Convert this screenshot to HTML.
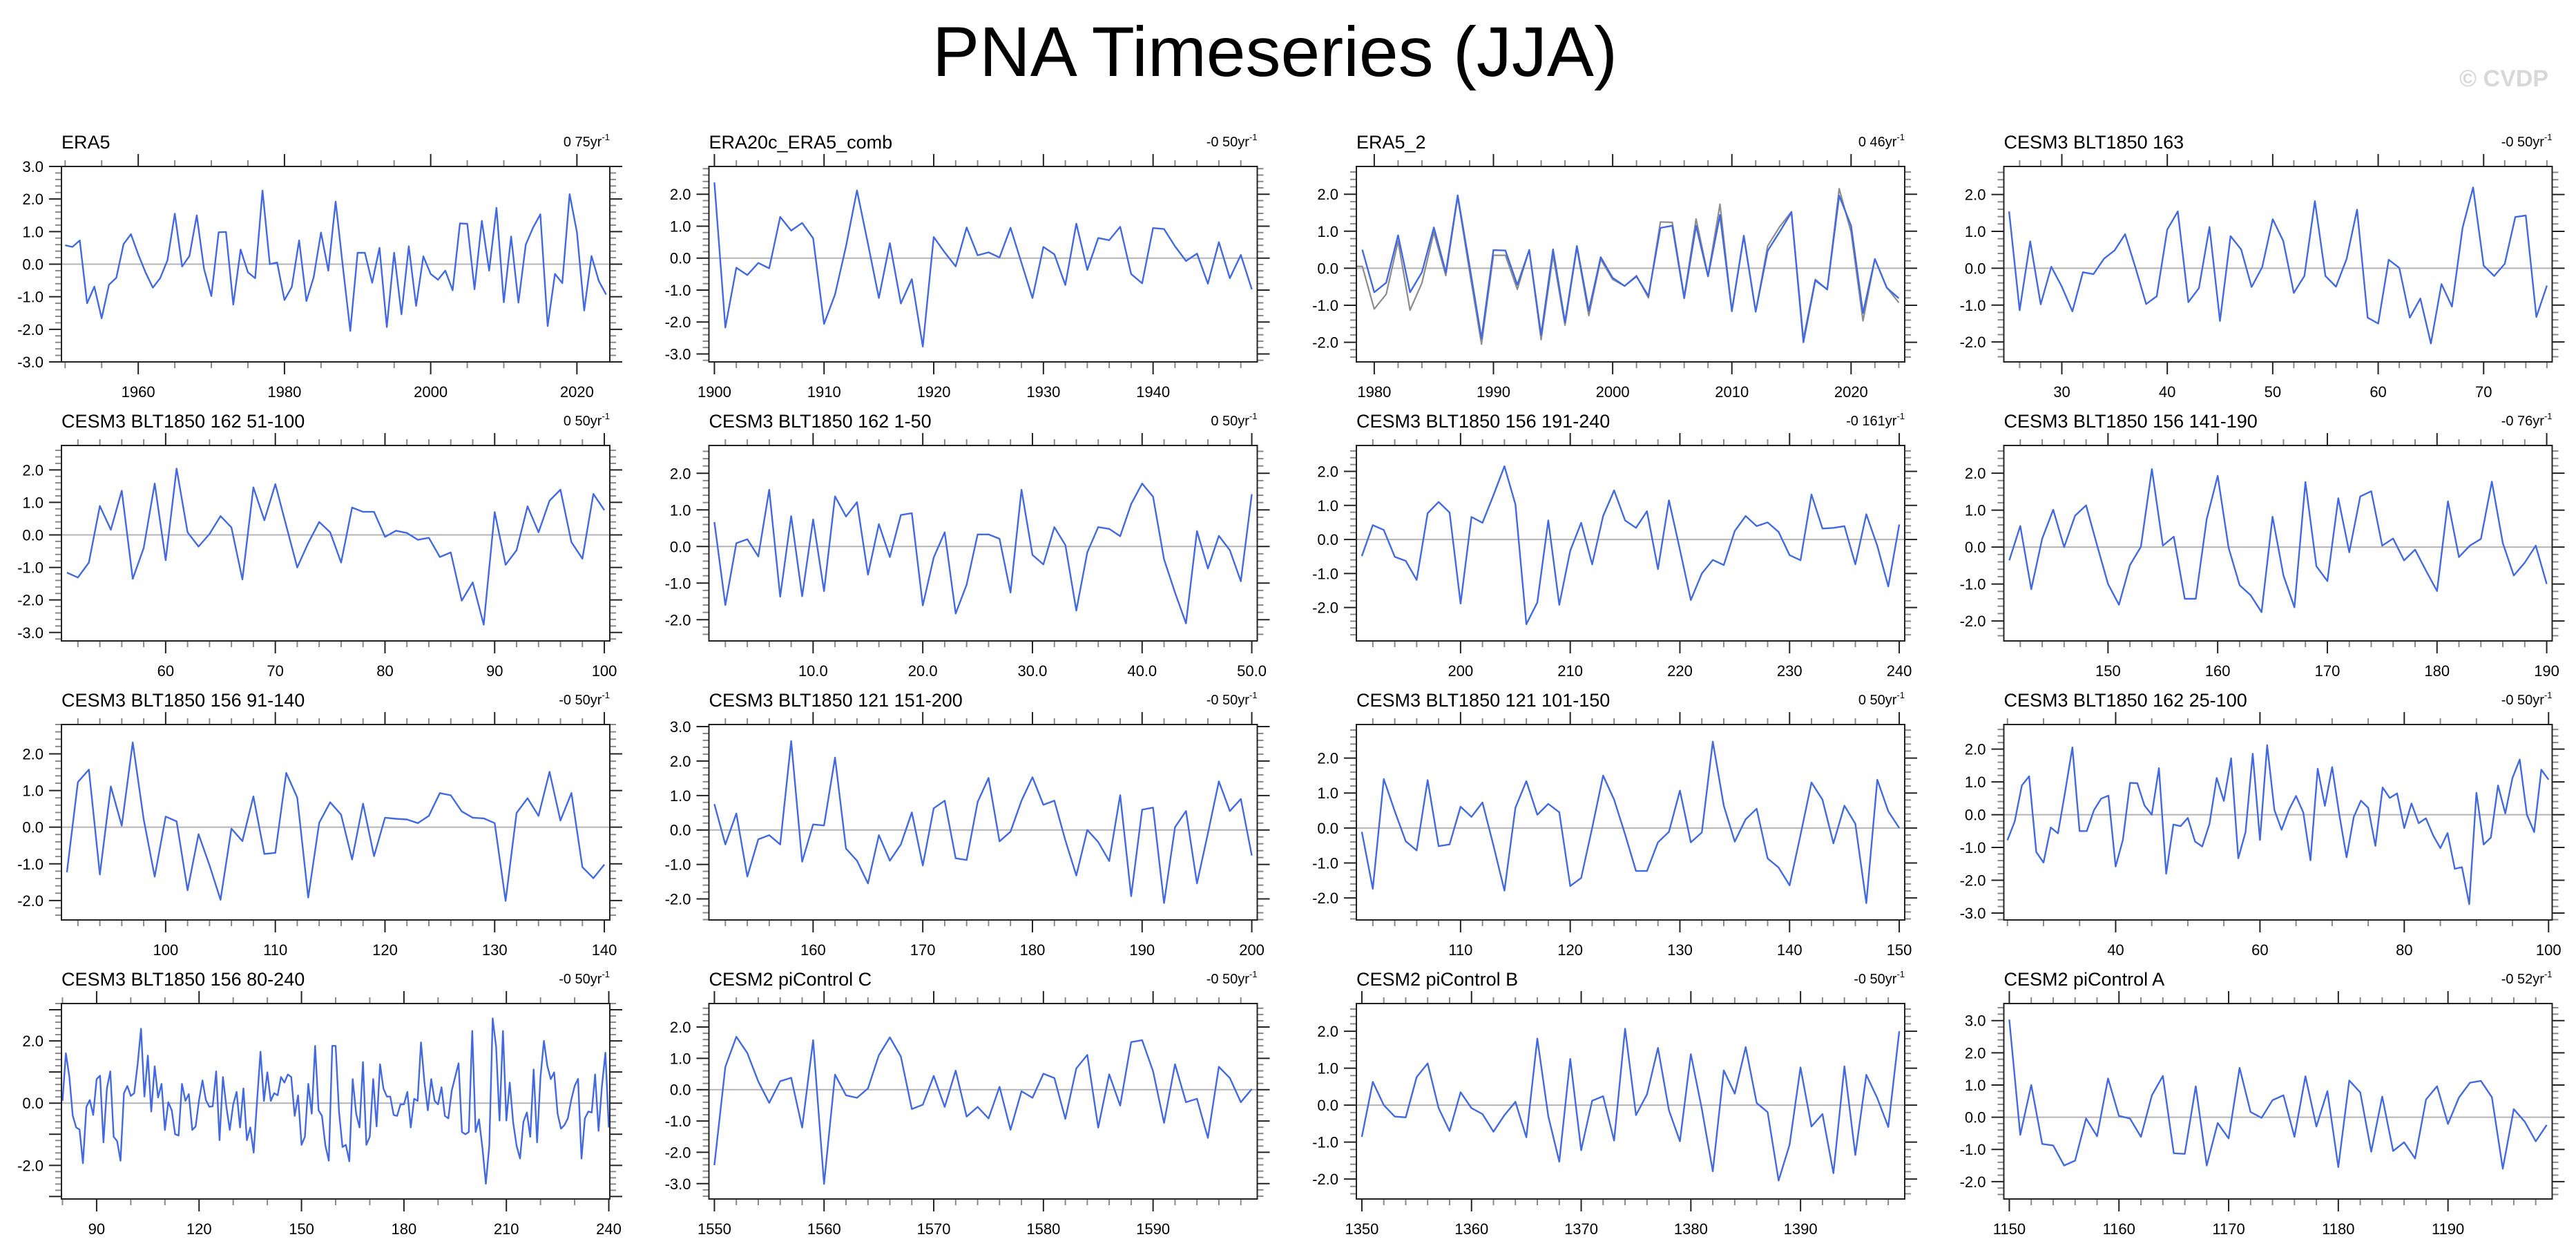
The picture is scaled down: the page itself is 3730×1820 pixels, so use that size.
<!DOCTYPE html>
<html><head><meta charset="utf-8"><style>
html,body{margin:0;padding:0;background:#fff;}
svg{display:block;font-family:"Liberation Sans",Arial,sans-serif;}
</style></head><body>
<svg id="chart" width="3730" height="1820" viewBox="0 0 3730 1820" xmlns="http://www.w3.org/2000/svg">
<rect width="3730" height="1820" fill="#fff"/>
<text x="1846" y="110" font-size="102" text-anchor="middle" fill="#000">PNA Timeseries (JJA)</text>
<text x="3690" y="125" font-size="34" font-weight="bold" text-anchor="end" fill="#d8d8d8">© CVDP</text>
</svg>
<script>
const era5 = [0.58,0.53,0.73,-1.2,-0.69,-1.66,-0.63,-0.42,0.62,0.92,0.3,-0.25,-0.72,-0.43,0.12,1.55,-0.07,0.25,1.5,-0.14,-0.98,0.98,0.99,-1.24,0.45,-0.25,-0.43,2.26,0.0,0.05,-1.1,-0.7,0.73,-1.13,-0.4,0.97,-0.2,1.92,-0.1,-2.05,0.35,0.35,-0.57,0.5,-1.93,0.35,-1.54,0.55,-1.28,0.24,-0.3,-0.48,-0.2,-0.8,1.25,1.24,-0.77,1.33,-0.2,1.73,-1.17,0.85,-1.18,0.6,1.12,1.53,-1.9,-0.3,-0.58,2.15,0.98,-1.42,0.25,-0.52,-0.93];
const era20c = [2.37,-2.17,-0.3,-0.53,-0.15,-0.32,1.29,0.86,1.1,0.62,-2.06,-1.14,0.37,2.12,0.45,-1.25,0.47,-1.42,-0.66,-2.77,0.66,0.18,-0.26,0.96,0.09,0.18,0.02,0.95,-0.15,-1.25,0.35,0.12,-0.84,1.08,-0.37,0.63,0.56,0.98,-0.5,-0.79,0.94,0.91,0.37,-0.09,0.14,-0.8,0.5,-0.63,0.1,-0.98];
const era5b = [0.5,-0.65,-0.39,0.89,-0.65,-0.11,1.1,-0.11,1.97,0.05,-1.9,0.49,0.48,-0.45,0.49,-1.8,0.51,-1.46,0.6,-1.15,0.3,-0.26,-0.48,-0.22,-0.75,1.09,1.15,-0.81,1.15,-0.22,1.44,-1.15,0.88,-1.17,0.47,0.98,1.51,-2.0,-0.33,-0.57,1.96,1.15,-1.21,0.25,-0.53,-0.81];
const c163 = [1.54,-1.14,0.73,-0.98,0.04,-0.5,-1.17,-0.11,-0.16,0.26,0.48,0.92,0.0,-0.97,-0.76,1.05,1.54,-0.92,-0.54,1.12,-1.43,0.87,0.51,-0.51,0.03,1.33,0.74,-0.67,-0.21,1.82,-0.21,-0.5,0.25,1.59,-1.34,-1.5,0.23,0.01,-1.34,-0.82,-2.04,-0.43,-1.04,1.09,2.19,0.07,-0.21,0.12,1.39,1.43,-1.32,-0.47];
const c162a = [-1.16,-1.31,-0.85,0.89,0.16,1.36,-1.35,-0.4,1.58,-0.78,2.04,0.08,-0.36,0.03,0.58,0.23,-1.37,1.46,0.45,1.56,0.28,-1.0,-0.25,0.4,0.08,-0.85,0.84,0.71,0.71,-0.06,0.13,0.06,-0.15,-0.09,-0.68,-0.54,-2.02,-1.46,-2.76,0.7,-0.92,-0.47,0.88,0.08,1.05,1.39,-0.22,-0.73,1.26,0.76];
const c162b = [0.67,-1.6,0.09,0.2,-0.27,1.55,-1.37,0.83,-1.36,0.74,-1.22,1.37,0.82,1.21,-0.77,0.61,-0.29,0.86,0.91,-1.61,-0.3,0.39,-1.83,-1.04,0.33,0.33,0.21,-1.26,1.55,-0.23,-0.49,0.53,0.04,-1.75,-0.16,0.53,0.48,0.28,1.16,1.72,1.36,-0.35,-1.26,-2.1,0.42,-0.6,0.29,-0.1,-0.95,1.43];
const c156a = [-0.49,0.42,0.28,-0.51,-0.63,-1.19,0.77,1.1,0.79,-1.88,0.66,0.49,1.3,2.15,1.03,-2.49,-1.85,0.56,-1.92,-0.33,0.49,-0.73,0.69,1.44,0.56,0.34,0.83,-0.87,1.15,-0.3,-1.78,-1.0,-0.6,-0.75,0.25,0.69,0.39,0.5,0.22,-0.46,-0.61,1.32,0.32,0.34,0.39,-0.73,0.74,-0.19,-1.38,0.44];
const c156b = [-0.36,0.57,-1.14,0.23,1.01,0.0,0.85,1.13,0.05,-1.0,-1.56,-0.49,0.01,2.11,0.04,0.28,-1.4,-1.4,0.76,1.93,-0.02,-1.03,-1.3,-1.76,0.82,-0.77,-1.63,1.76,-0.52,-0.92,1.32,-0.14,1.37,1.51,0.04,0.23,-0.36,-0.07,-0.64,-1.19,1.24,-0.27,0.04,0.22,1.77,0.11,-0.77,-0.42,0.04,-1.0];
const c156c = [-1.23,1.23,1.57,-1.29,1.11,0.04,2.31,0.21,-1.35,0.29,0.16,-1.72,-0.19,-1.04,-1.98,-0.04,-0.38,0.84,-0.73,-0.7,1.48,0.81,-1.92,0.12,0.68,0.34,-0.88,0.64,-0.79,0.26,0.23,0.21,0.11,0.31,0.93,0.87,0.43,0.26,0.24,0.11,-2.01,0.39,0.79,0.31,1.51,0.18,0.93,-1.09,-1.39,-1.02];
const c121a = [0.75,-0.42,0.48,-1.35,-0.27,-0.15,-0.42,2.58,-0.92,0.16,0.13,2.1,-0.54,-0.89,-1.55,-0.15,-0.89,-0.42,0.51,-1.03,0.63,0.85,-0.82,-0.87,0.81,1.51,-0.33,-0.05,0.85,1.53,0.73,0.85,-0.3,-1.32,0.0,-0.35,-0.9,1.01,-1.92,0.59,0.65,-2.12,0.08,0.55,-1.55,-0.1,1.41,0.55,0.9,-0.74];
const c121b = [-0.11,-1.74,1.4,0.48,-0.38,-0.64,1.37,-0.52,-0.47,0.61,0.32,0.73,-0.5,-1.79,0.58,1.34,0.38,0.69,0.45,-1.66,-1.43,0.0,1.5,0.81,-0.18,-1.23,-1.23,-0.41,-0.11,1.07,-0.41,-0.13,2.47,0.64,-0.39,0.25,0.55,-0.87,-1.13,-1.64,-0.2,1.3,0.81,-0.44,0.64,0.12,-2.15,1.38,0.48,0.0];
const c162c = [-0.78,-0.21,0.89,1.17,-1.14,-1.46,-0.39,-0.57,0.7,2.05,-0.5,-0.5,0.14,0.49,0.58,-1.58,-0.77,0.97,0.96,0.28,0.0,1.42,-1.8,-0.3,-0.35,-0.1,-0.82,-0.97,-0.28,1.12,0.42,1.72,-1.33,-0.53,1.86,-0.77,2.12,0.14,-0.46,0.14,0.57,0.07,-1.39,1.4,0.27,1.45,0.0,-1.3,-0.07,0.43,0.21,-0.95,0.83,0.51,0.65,-0.41,0.34,-0.26,-0.11,-0.63,-1.02,-0.56,-1.65,-1.6,-2.73,0.67,-0.91,-0.7,0.89,0.04,1.12,1.68,0.0,-0.53,1.37,1.07];
const c156d = [0.07,1.6,0.85,-0.4,-0.78,-0.85,-1.93,-0.12,0.1,-0.38,0.77,0.88,-1.26,0.47,1.02,-1.08,-1.22,-1.85,0.32,0.55,0.23,0.32,1.25,2.39,0.21,1.53,-0.27,1.18,0.18,0.62,-0.86,0.03,-0.23,-1.0,-1.04,0.62,0.07,0.29,-0.86,-0.75,0.1,0.73,0.1,-0.12,-0.1,1.02,-1.19,0.84,-0.12,-0.86,-0.04,0.36,-0.78,0.47,-1.19,-0.78,-1.59,0.1,1.65,0.07,0.99,0.07,0.32,0.25,0.84,0.66,0.92,0.84,-0.41,0.25,-1.34,-1.08,0.62,-0.34,1.84,-0.23,-0.41,-1.37,-1.85,1.84,1.84,-0.27,-1.41,-1.34,-1.87,0.77,-0.34,-0.78,1.32,-1.34,-1.08,0.77,-0.75,1.25,0.47,0.21,0.21,-0.38,-0.41,-0.04,-0.04,0.36,-0.78,0.14,0.07,1.95,0.69,-0.23,0.77,0.07,-0.04,0.51,-0.41,-0.49,0.4,0.84,1.28,-0.93,-1.0,-0.93,2.32,-0.93,-0.52,-1.45,-2.59,-1.37,2.72,1.8,-0.56,2.32,-0.56,0.66,-0.63,-1.37,-1.78,-0.6,-0.3,-1.08,1.08,-1.26,0.84,2.0,1.2,0.77,0.99,-0.34,-0.82,-0.71,-0.49,0.1,0.55,0.78,-1.78,-0.49,-0.27,-0.3,0.92,-0.89,0.55,1.62,-0.78];
const picC = [-2.41,0.73,1.69,1.17,0.26,-0.42,0.27,0.38,-1.21,1.58,-3.01,0.48,-0.18,-0.26,0.04,1.1,1.67,1.06,-0.62,-0.48,0.44,-0.55,0.61,-0.86,-0.55,-0.92,0.09,-1.28,-0.05,-0.26,0.51,0.37,-0.93,0.68,1.11,-1.21,0.49,-0.51,1.52,1.58,0.59,-1.06,0.81,-0.4,-0.29,-1.54,0.73,0.37,-0.4,0.02];
const picB = [-0.86,0.63,0.0,-0.31,-0.33,0.76,1.13,-0.08,-0.7,0.35,-0.08,-0.24,-0.72,-0.27,0.09,-0.87,1.8,-0.3,-1.53,1.25,-1.22,0.12,0.24,-0.96,2.07,-0.27,0.29,1.55,-0.14,-0.98,1.38,-0.1,-1.79,0.94,0.31,1.57,0.06,-0.19,-2.04,-1.07,1.02,-0.58,-0.24,-1.84,1.05,-1.35,0.82,0.19,-0.59,2.0];
const picA = [3.03,-0.55,1.0,-0.83,-0.88,-1.5,-1.35,-0.04,-0.59,1.2,0.04,-0.04,-0.61,0.68,1.28,-1.12,-1.14,0.96,-1.5,-0.18,-0.66,1.53,0.16,-0.02,0.53,0.68,-0.61,1.27,-0.29,0.81,-1.55,1.14,0.77,-1.07,0.64,-1.05,-0.78,-1.28,0.55,0.96,-0.21,0.61,1.07,1.13,0.62,-1.6,0.25,-0.14,-0.75,-0.24];

const startYears = [1950,1900,1979,25,51,1,191,141,91,151,101,25,80,1550,1350,1150];
const titles = ["ERA5","ERA20c_ERA5_comb","ERA5_2","CESM3 BLT1850 163","CESM3 BLT1850 162 51-100","CESM3 BLT1850 162 1-50","CESM3 BLT1850 156 191-240","CESM3 BLT1850 156 141-190","CESM3 BLT1850 156 91-140","CESM3 BLT1850 121 151-200","CESM3 BLT1850 121 101-150","CESM3 BLT1850 162 25-100","CESM3 BLT1850 156 80-240","CESM2 piControl C","CESM2 piControl B","CESM2 piControl A"];
const trends = ["0 75yr","-0 50yr","0 46yr","-0 50yr","0 50yr","0 50yr","-0 161yr","-0 76yr","-0 50yr","-0 50yr","0 50yr","-0 50yr","-0 50yr","-0 50yr","-0 50yr","-0 52yr"];
const seriesList = [era5,era20c,era5b,c163,c162a,c162b,c156a,c156b,c156c,c121a,c121b,c162c,c156d,picC,picB,picA];
const yMins = [-3.0,-3.25,-2.53,-2.54,-3.26,-2.58,-2.98,-2.54,-2.53,-2.61,-2.63,-3.21,-3.08,-3.49,-2.54,-2.54];
const yMaxs = [3.0,2.87,2.75,2.76,2.75,2.76,2.76,2.75,2.8,3.06,2.96,2.75,3.2,2.75,2.75,3.53];
const majorSteps = [20,10,10,10,10,10,10,10,10,10,10,20,30,10,10,10];
const minorSteps = [5,2,2,2,2,2,2,2,2,2,2,5,10,2,2,2];
const yLabelSteps = [1,1,1,1,1,1,1,1,1,1,1,1,2,1,1,1];

const NS = "http://www.w3.org/2000/svg";
const svg = document.getElementById('chart');
function mk(tag, attrs, parent) {
  const e = document.createElementNS(NS, tag);
  for (const k in attrs) e.setAttribute(k, attrs[k]);
  parent.appendChild(e);
  return e;
}

for (let i = 0; i < 16; i++) {
  const col = i % 4, row = Math.floor(i / 4);
  const L = 89 + col * 937.5, T = 241 + row * 404, W = 794, H = 283;
  const data = seriesList[i], start = startYears[i];
  const pad = (i === 12) ? 0.3 : 0.5;
  const x0 = start - pad, x1 = start + data.length - 1 + pad;
  const ymin = yMins[i], ymax = yMaxs[i];
  const sx = v => L + (v - x0) / (x1 - x0) * W;
  const sy = v => T + (ymax - v) / (ymax - ymin) * H;

  const g = mk('g', {}, svg);
  
  

  const title = mk('text', {x: L, y: T - 26, 'font-size': 27, fill: '#000'}, g);
  title.textContent = titles[i];
  
  

  const tr = mk('text', {x: L + W, y: T - 29, 'font-size': 20, 'text-anchor': 'end', fill: '#000'}, g);
  
  
  const t1 = mk('tspan', {}, tr); t1.textContent = trends[i];
  const t2 = mk('tspan', {dy: -9, 'font-size': 13}, tr); t2.textContent = '-1';

  const zl = mk('line', {x1: L, x2: L + W, y1: sy(0), y2: sy(0), stroke: '#b4b4b4', 'stroke-width': 2}, g);
  
  

  const mn = minorSteps[i], mj = majorSteps[i];
  for (let v = Math.ceil(x0 / mn) * mn; v <= x1 + 1e-9; v += mn) {
    const major = (v % mj === 0);
    const len = major ? 18 : 9;
    const X = sx(v);
    const tb = mk('line', {x1: X, x2: X, y1: T + H, y2: T + H + len, stroke: major ? '#222' : '#888', 'stroke-width': 2}, g);
    
    
    const tt = mk('line', {x1: X, x2: X, y1: T, y2: T - len, stroke: major ? '#222' : '#888', 'stroke-width': 2}, g);
    
    
    if (major) {
      const lb = mk('text', {x: X, y: T + H + 51, 'font-size': 22, 'text-anchor': 'middle', fill: '#000'}, g);
      lb.textContent = (i === 5) ? v.toFixed(1) : String(v);
      
      
    }
  }
  for (let k = Math.ceil(ymin * 5 - 1e-9); k <= Math.floor(ymax * 5 + 1e-9); k++) {
    const major = (k % 5 === 0);
    const len = major ? 18 : 9;
    const Y = sy(k / 5);
    const yl = mk('line', {x1: L - len, x2: L, y1: Y, y2: Y, stroke: major ? '#222' : '#888', 'stroke-width': 2}, g);
    
    
    const yr = mk('line', {x1: L + W, x2: L + W + len, y1: Y, y2: Y, stroke: major ? '#222' : '#888', 'stroke-width': 2}, g);
    
    
    if (major && (k / 5) % yLabelSteps[i] === 0) {
      const lb = mk('text', {x: L - 26, y: Y + 8, 'font-size': 22, 'text-anchor': 'end', fill: '#000'}, g);
      lb.textContent = (k / 5).toFixed(1);
      
      
    }
  }

  if (i === 2) {
    const ref = era5.slice(1979 - 1950);
    const dg = 'M' + L.toFixed(1) + ',' + sy(ref[0]).toFixed(1) + ref.map((v, j) => 'L' + sx(start + j).toFixed(1) + ',' + sy(v).toFixed(1)).join('');
    const pg = mk('path', {d: dg, fill: 'none', stroke: '#8c8c8c', 'stroke-width': 2.2, 'stroke-linejoin': 'round'}, g);
    
    
  }

  const d = data.map((v, j) => (j ? 'L' : 'M') + sx(start + j).toFixed(1) + ',' + sy(v).toFixed(1)).join('');
  const p = mk('path', {d: d, fill: 'none', stroke: '#4169e1', 'stroke-width': 2.4, 'stroke-linejoin': 'round'}, g);
  
  

  const box = mk('rect', {x: L, y: T, width: W, height: H, fill: 'none', stroke: '#222', 'stroke-width': 2}, g);
  
  
}
</script>
</body></html>
